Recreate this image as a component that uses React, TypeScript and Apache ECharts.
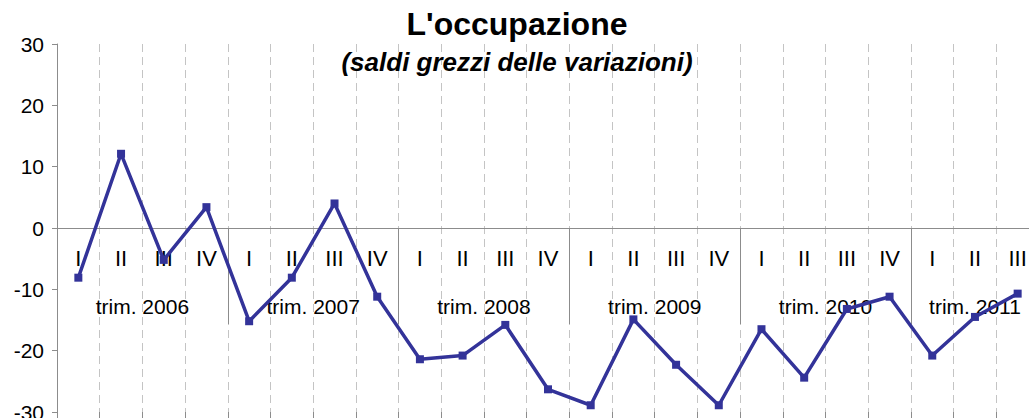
import React, { useEffect, useRef } from "react";
import * as echarts from "echarts";

const titleText = "L'occupazione";
const subtitleText = "(saldi grezzi delle variazioni)";

const years = ["2006", "2007", "2008", "2009", "2010", "2011"];
const quartersPerYear = [4, 4, 4, 4, 4, 3];
const quarterNames = ["I", "II", "III", "IV"];
const values = [
  -8.1, 12.1, -5.2, 3.4,
  -15.2, -8.1, 4.0, -11.2,
  -21.4, -20.8, -15.8, -26.3,
  -28.9, -14.9, -22.3, -28.9,
  -16.5, -24.4, -13.2, -11.2,
  -20.8, -14.5, -10.7,
];
const yTicks = { min: -30, max: 30, interval: 10 };

const categories: string[] = [];
quartersPerYear.forEach((n) => {
  for (let i = 0; i < n; i++) categories.push(quarterNames[i]);
});
const boundaries: number[] = [0];
quartersPerYear.forEach((n) => boundaries.push(boundaries[boundaries.length - 1] + n));
const centers = years.map((_, i) => (boundaries[i] + boundaries[i + 1]) / 2);
const yearLabels = years.map((y) => "trim. " + y);

const FONT = "'Liberation Sans', Arial, Helvetica, sans-serif";
const W = 1029;
const H = 418;
const GRID = { left: 57, right: -10, top: 44, bottom: 6 };
const plotH = H - GRID.top - GRID.bottom;
const zeroY = GRID.top + (plotH * yTicks.max) / (yTicks.max - yTicks.min);
const GRAY = "#8c8c8c";

export default function App() {
  const ref = useRef<HTMLDivElement>(null);
  useEffect(() => {
    if (!ref.current) return;
    const chart = echarts.init(ref.current, undefined, { renderer: "svg" });
    chart.setOption({
      animation: false,
      backgroundColor: "#ffffff",
      textStyle: { fontFamily: FONT },
      title: [
        {
          text: titleText,
          left: 517,
          top: 8,
          padding: 0,
          textAlign: "center",
          textStyle: { fontFamily: FONT, fontSize: 32, fontWeight: "bold", color: "#000" },
        },
        {
          text: subtitleText,
          left: 517,
          top: 49,
          padding: 0,
          textAlign: "center",
          textStyle: {
            fontFamily: FONT,
            fontSize: 26,
            fontWeight: "bold",
            fontStyle: "italic",
            color: "#000",
          },
        },
      ],
      grid: [
        { ...GRID, containLabel: false, outerBoundsMode: "none" },
        {
          left: GRID.left,
          right: GRID.right,
          top: zeroY,
          bottom: GRID.bottom,
          containLabel: false,
          outerBoundsMode: "none",
        },
      ],
      xAxis: [
        {
          type: "category",
          gridIndex: 0,
          data: categories,
          position: "bottom",
          boundaryGap: true,
          axisLine: {
            show: true,
            onZero: true,
            lineStyle: { color: GRAY, width: 1 },
          },
          axisTick: { show: false },
          axisLabel: { show: false },
          splitLine: {
            show: true,
            interval: 0,
            lineStyle: { color: "#c4c4c4", width: 1, type: [8, 5] },
          },
        },
        {
          type: "category",
          gridIndex: 1,
          data: categories,
          position: "top",
          boundaryGap: true,
          axisLine: { show: false },
          axisTick: {
            show: true,
            inside: true,
            interval: 0,
            length: 49,
            lineStyle: { color: GRAY, width: 1 },
          },
          axisLabel: {
            inside: true,
            interval: 0,
            margin: 19,
            fontSize: 22,
            color: "#000",
            fontFamily: FONT,
            verticalAlign: "top",
          },
          splitLine: { show: false },
        },
        {
          type: "value",
          gridIndex: 1,
          min: 0,
          max: boundaries[boundaries.length - 1],
          position: "top",
          axisLine: { show: false },
          axisTick: {
            show: true,
            inside: true,
            customValues: boundaries,
            length: 96,
            lineStyle: { color: GRAY, width: 1 },
          },
          axisLabel: {
            show: true,
            inside: true,
            customValues: centers,
            margin: 68,
            fontSize: 21,
            color: "#000",
            fontFamily: FONT,
            verticalAlign: "top",
            formatter: (v: number) => {
              const i = centers.findIndex((c) => Math.abs(c - v) < 1e-6);
              return i >= 0 ? yearLabels[i] : "";
            },
          },
          splitLine: { show: false },
        },
      ],
      yAxis: [
        {
          type: "value",
          gridIndex: 0,
          min: yTicks.min,
          max: yTicks.max,
          interval: yTicks.interval,
          axisLine: { show: true, onZero: false, lineStyle: { color: GRAY, width: 1 } },
          axisTick: { show: true, length: 5, lineStyle: { color: GRAY } },
          axisLabel: { margin: 13, fontSize: 21, color: "#000", fontFamily: FONT },
          splitLine: { show: false },
        },
        {
          type: "value",
          gridIndex: 1,
          min: 0,
          max: 1,
          show: false,
        },
      ],
      series: [
        {
          type: "line",
          data: values,
          xAxisIndex: 0,
          yAxisIndex: 0,
          symbol: "rect",
          symbolSize: 8,
          lineStyle: { color: "#333399", width: 3.5 },
          itemStyle: { color: "#333399" },
          z: 5,
        },
      ],
    });
    return () => chart.dispose();
  }, []);
  return (
    <div
      ref={ref}
      style={{ position: "fixed", left: 0, top: 0, width: W, height: H }}
    />
  );
}
